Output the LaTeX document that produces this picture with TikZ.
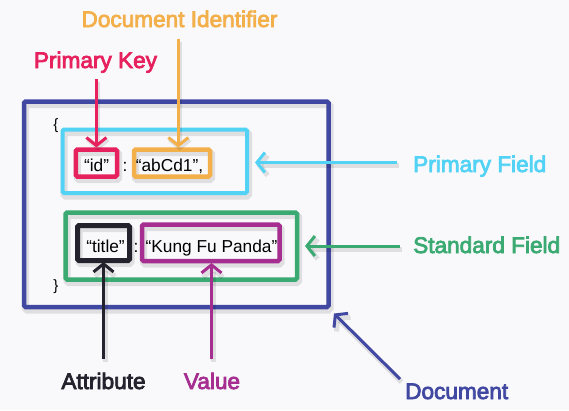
\documentclass[tikz,border=0pt]{standalone}
\usepackage{fontspec}
\setmainfont{Liberation Sans}
\newfontfamily\labfont{Liberation Sans}
\newcommand\embon{\special{pdf:literal direct 2 Tr 0.75 w}}
\newcommand\emboff{\special{pdf:literal direct 0 Tr 1 w}}
\usetikzlibrary{arrows.meta,calc}
\definecolor{bgc}{HTML}{F9F9FB}
\definecolor{docblue}{HTML}{4048A2}
\definecolor{cyanc}{HTML}{52D2F4}
\definecolor{redc}{HTML}{E6215E}
\definecolor{orangec}{HTML}{F3AF4A}
\definecolor{greenc}{HTML}{3BAA72}
\definecolor{blackc}{HTML}{23222D}
\definecolor{purplec}{HTML}{A52E90}
\tikzset{
  shad/.style={preaction={draw=black,opacity=0.10,line width=7pt,transform canvas={shift={(1.5,3)}}}},
  ashad/.style={preaction={draw=black,opacity=0.10,line width=5pt,transform canvas={shift={(1.5,3)}}}},
  boxst/.style={draw, shad, rounded corners=1.5pt, inner sep=0pt, outer sep=0pt},
  arr/.style={line width=3pt, ashad, -{Straight Barb[length=8pt,width=20pt]}},
  lab/.style={font=\labfont\fontsize{22.6}{26}\selectfont, inner sep=0pt,
    execute at begin node=\embon, execute at end node=\emboff},
  code/.style={font=\fontsize{17.3}{20}\selectfont, inner sep=0pt, anchor=base, text=black},
}
\begin{document}
\begin{tikzpicture}[x=1pt,y=-1pt]
\useasboundingbox[fill=bgc] (0,0) rectangle (569,410);

% boxes
\node[boxst, draw=docblue, line width=4.5pt, minimum width=304.5pt, minimum height=205.5pt] (doc) at (176.25,204.25) {};
\node[boxst, draw=cyanc, line width=4pt, minimum width=184.5pt, minimum height=63.5pt] (pf) at (154.75,161.25) {};
\node[boxst, draw=redc, line width=4.5pt, minimum width=41.3pt, minimum height=27pt] (idb) at (96.4,163) {};
\node[boxst, draw=orangec, line width=4.5pt, minimum width=76pt, minimum height=27pt] (ab) at (172,163) {};
\node[boxst, draw=greenc, line width=4.5pt, minimum width=231.5pt, minimum height=67pt] (sf) at (181.25,246) {};
\node[boxst, draw=blackc, line width=5pt, minimum width=52pt, minimum height=35pt] (tb) at (103.5,243) {};
\node[boxst, draw=purplec, line width=4.5pt, minimum width=137.5pt, minimum height=36.5pt] (kb) at (210.75,242.75) {};

% code text
\node[code, font=\fontsize{15}{18}\selectfont] (lbr) at (56,129) {\{};
\node[code, font=\fontsize{15}{18}\selectfont] (rbr) at (56,290) {\}};
\node[code] (tid) at (96.6,171) {“id”};
\node[code] (c1) at (125,171) {:};
\node[code] (tab) at (169.5,171) {“abCd1”,};
\node[code] (ttl) at (105.5,252) {“title”};
\node[code] (c2) at (136,252) {:};
\node[code] (tkp) at (211.5,252) {“Kung Fu Panda”};

% labels
\node[lab, text=orangec, anchor=base] (dil) at (179.5,27) {Document Identifier};
\node[lab, text=redc, anchor=base] (pkl) at (95.5,68) {Primary Key};
\node[lab, text=cyanc, anchor=base west] (pfl) at (413,172) {Primary Field};
\node[lab, text=greenc, anchor=base west] (sfl) at (413,253) {Standard Field};
\node[lab, text=blackc, anchor=base] (atl) at (103.5,389) {Attribute};
\node[lab, text=purplec, anchor=base] (vl) at (212,389) {Value};
\node[lab, text=docblue, anchor=base west] (dl) at (405,399) {Document};

% arrow tails
\coordinate (pkA) at (96.4,79);
\coordinate (diA) at (178.3,39);
\coordinate (pfA) at (397,162.5);
\coordinate (sfA) at (400,246);
\coordinate (atA) at (103.5,359);
\coordinate (vA) at (211.5,359);
\coordinate (dA) at (400,379);
\coordinate (dT) at ($(doc.south east)+(5.5,6.5)$);

% arrows
\draw[arr, draw=redc, shorten >=2pt] (pkA) -- (pkA |- idb.north);
\draw[arr, draw=orangec, shorten >=2pt] (diA) -- (diA |- ab.north);
\draw[arr, draw=cyanc, shorten >=8pt] (pfA) -- (pfA -| pf.east);
\draw[arr, draw=greenc, shorten >=8pt] (sfA) -- (sfA -| sf.east);
\draw[arr, draw=blackc, shorten >=1.5pt] (atA) -- (atA |- tb.south);
\draw[arr, draw=purplec, shorten >=2pt] (vA) -- (vA |- kb.south);
\draw[arr, draw=docblue] (dA) -- (dT);
\end{tikzpicture}
\end{document}
